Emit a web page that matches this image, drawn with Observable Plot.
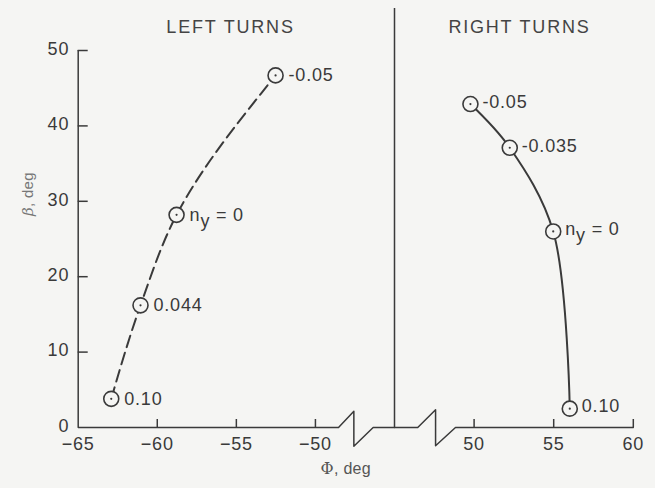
<!DOCTYPE html>
<html>
<head>
<meta charset="utf-8">
<script src="https://cdn.jsdelivr.net/npm/d3@7"></script>
<script src="https://cdn.jsdelivr.net/npm/@observablehq/plot@0.6"></script>
<style>
  html, body { margin: 0; padding: 0; background: #f5f5f3; }
</style>
</head>
<body>
<div id="chart"></div>
<script>
// ---- data ----
const leftPhi = [-62.91, -61.06, -58.78, -52.52];
const leftBeta = [3.8, 16.2, 28.2, 46.7];
const leftLabels = ["0.10", "0.044", "n_y = 0", "-0.05"];

const rightPhi = [56.01, 54.97, 52.24, 49.77];
const rightBeta = [2.5, 26.0, 37.1, 42.9];
const rightLabels = ["0.10", "n_y = 0", "-0.035", "-0.05"];

const xTicks = [-65, -60, -55, -50, 50, 55, 60];
const yTicks = [0, 10, 20, 30, 40, 50];

const panelTitles = ["LEFT TURNS", "RIGHT TURNS"];
const panelCenters = [-55.37, 52.85];

// broken x axis (left and right halves meet at the panel divider)
const breakLeftPhi = [-65, -48.54, -47.57, -47.57, -46.35, -45];
const breakLeftBeta = [0, 0, 2.16, -2.48, 0, 0];
const breakRightPhi = [45, 46.46, 47.58, 47.58, 48.83, 60];
const breakRightBeta = [0, 0, 2.35, -2.43, 0, 0];
const dividerPhi = [-45];

// ---- tables built from the arrays ----
const left = leftPhi.map((x, i) => ({x, y: leftBeta[i], label: leftLabels[i]}));
const right = rightPhi.map((x, i) => ({x, y: rightBeta[i], label: rightLabels[i]}));
const breakLeft = breakLeftPhi.map((x, i) => ({x, y: breakLeftBeta[i]}));
const breakRight = breakRightPhi.map((x, i) => ({x, y: breakRightBeta[i]}));
const titles = panelTitles.map((t, i) => ({t, x: panelCenters[i]}));

const W = 655, H = 488;
const mL = 77.7, mR = 22.2, mT = 50, mB = 61;
const ink = "#3a3a3a";
const bg = "#f5f5f3";
const fmt = d => d < 0 ? "\u2212" + Math.abs(d) : String(d);

const chart = Plot.plot({
  width: W,
  height: H,
  marginLeft: mL,
  marginRight: mR,
  marginTop: mT,
  marginBottom: mB,
  style: {background: bg, color: ink, fontFamily: "'Liberation Sans', Arial, sans-serif", overflow: "visible", letterSpacing: "0.8px"},
  x: {type: "linear", domain: [-65, -45, 45, 60], range: [mL, 394, 394, W - mR], axis: null},
  y: {domain: [0, 50], axis: null},
  marks: [
    // axes
    Plot.ruleX([-65], {y1: 0, y2: 50, stroke: ink, strokeWidth: 1.5}),
    Plot.ruleY(yTicks.filter(d => d > 0), {stroke: ink, strokeWidth: 1.5, insetRight: (W - mL - mR) - 10}),
    Plot.ruleX(xTicks.slice(1), {stroke: ink, strokeWidth: 1.5, insetTop: (H - mT - mB) - 8}),
    Plot.line(breakLeft, {x: "x", y: "y", stroke: ink, strokeWidth: 1.5}),
    Plot.line(breakRight, {x: "x", y: "y", stroke: ink, strokeWidth: 1.5}),
    Plot.ruleX(dividerPhi, {stroke: ink, strokeWidth: 1.5, insetTop: -42}),
    Plot.text(yTicks, {y: d => d, text: d => String(d), frameAnchor: "left", dx: -9, dy: -1.5, textAnchor: "end", fontSize: 18, fill: ink}),
    Plot.text(xTicks, {x: d => d, text: fmt, frameAnchor: "bottom", dy: 22, fontSize: 18, fill: ink}),
    Plot.text(titles, {x: "x", text: "t", frameAnchor: "top", dy: -30, fontSize: 18, fill: "#444"}),
    Plot.text(["\u03A6, deg"], {frameAnchor: "bottom", dx: -10, dy: 46, fontSize: 16, fill: "#555"}),
    Plot.text(["\u03B2, deg"], {frameAnchor: "left", dx: -50, dy: -23, rotate: -90, fontSize: 15, fill: "#777"}),
    // curves
    Plot.line(left, {x: "x", y: "y", curve: "monotone-y", stroke: ink, strokeWidth: 2, strokeDasharray: "12,6"}),
    Plot.line(right, {x: "x", y: "y", curve: "catmull-rom", stroke: ink, strokeWidth: 2}),
    // markers
    Plot.dot(left, {x: "x", y: "y", r: 7.5, fill: bg, stroke: ink, strokeWidth: 1.6}),
    Plot.dot(right, {x: "x", y: "y", r: 7.5, fill: bg, stroke: ink, strokeWidth: 1.6}),
    Plot.dot(left, {x: "x", y: "y", r: 1.1, fill: ink}),
    Plot.dot(right, {x: "x", y: "y", r: 1.1, fill: ink}),
    // labels
    Plot.text(left, {x: "x", y: "y", text: "label", dx: 13, textAnchor: "start", fontSize: 18, fill: ink}),
    Plot.text(right, {x: "x", y: "y", text: "label", dx: 12, dy: -2, textAnchor: "start", fontSize: 18, fill: ink})
  ]
});

const NS = "http://www.w3.org/2000/svg";
chart.querySelectorAll("text").forEach(t => {
  const c = t.textContent;
  if (c === "n_y = 0") {
    t.textContent = "n";
    const s = document.createElementNS(NS, "tspan");
    s.setAttribute("dy", "6");
    s.textContent = "y";
    const r = document.createElementNS(NS, "tspan");
    r.setAttribute("dy", "-6");
    r.textContent = " = 0";
    t.appendChild(s);
    t.appendChild(r);
  } else if (c === "LEFT TURNS" || c === "RIGHT TURNS") {
    t.style.letterSpacing = "1.8px";
  } else if (c === "\u03B2, deg" || c === "\u03A6, deg") {
    t.textContent = "";
    const b = document.createElementNS(NS, "tspan");
    if (c[0] === "\u03B2") b.setAttribute("font-style", "italic");
    b.setAttribute("font-family", "'DejaVu Serif', serif");
    b.textContent = c[0];
    const r = document.createElementNS(NS, "tspan");
    r.textContent = ", deg";
    t.appendChild(b);
    t.appendChild(r);
    t.style.letterSpacing = "0.3px";
  }
});

document.getElementById("chart").appendChild(chart);
</script>
</body>
</html>
